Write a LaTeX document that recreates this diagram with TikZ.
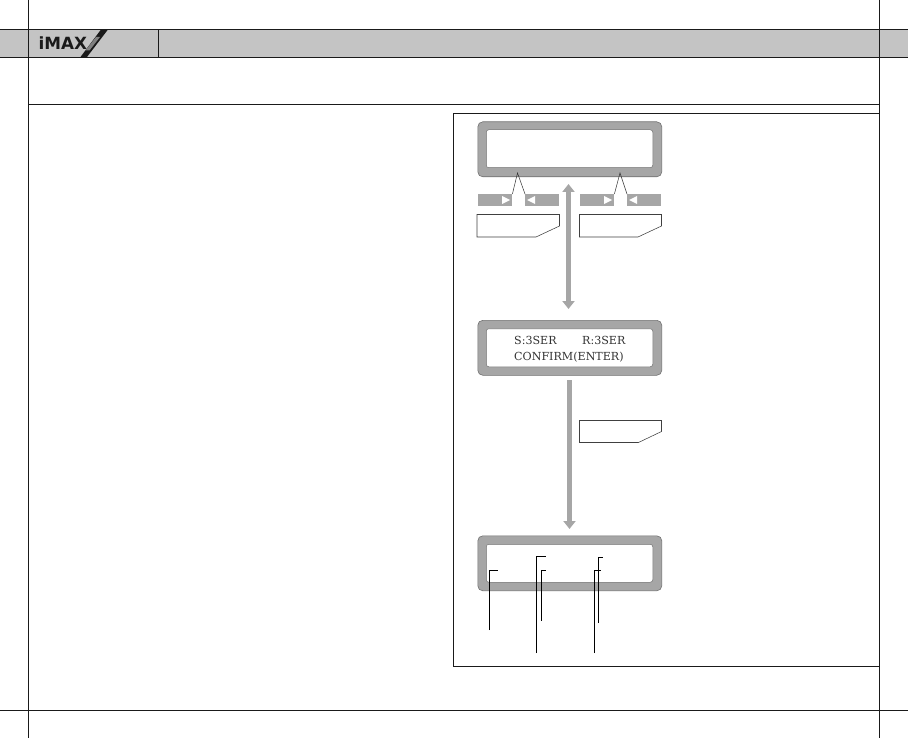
\documentclass[tikz,border=0pt]{standalone}
\usepackage{fontspec}
\setmainfont{DejaVu Serif}
\newfontfamily\logofont{DejaVu Sans}
\usetikzlibrary{arrows.meta,positioning}
\definecolor{band}{HTML}{C4C4C4}
\definecolor{lcdgray}{HTML}{A6A6A6}
\definecolor{lcdedge}{HTML}{707070}
\definecolor{rule}{HTML}{1A1A1A}
\tikzset{
  x=1pt,y=-1pt,
  rulerline/.style={draw=rule,line width=0.9pt},
  lcdouter/.style={draw=lcdedge,fill=lcdgray,line width=0.6pt,rounded corners=5pt,minimum width=184pt,minimum height=55pt,inner sep=0pt,anchor=north west},
  lcdinner/.style={draw=lcdedge,fill=white,line width=0.5pt,rounded corners=2.5pt,minimum width=166.5pt,minimum height=38pt,inner sep=0pt,anchor=north west},
  lcdtext/.style={inner sep=0pt,anchor=base west,font=\fontsize{11.1}{13}\selectfont,text=black!80},
  softbar/.style={fill=lcdgray,draw=none,minimum width=34pt,minimum height=12pt,inner sep=0pt,anchor=north west},
  whitetri/.style={fill=white,draw=none},
  thinline/.style={draw=black!80,line width=0.5pt},
  notebox/.style={draw=black!75,fill=white,line width=0.55pt},
  bigarrow/.style={draw=lcdgray,line width=4.6pt,-{Triangle[width=12pt,length=8pt]}},
  bigdouble/.style={draw=lcdgray,line width=4.6pt,{Triangle[width=12pt,length=8pt]}-{Triangle[width=12pt,length=8pt]}},
  leader/.style={draw=black,line width=0.7pt},
}
\begin{document}
\begin{tikzpicture}
\useasboundingbox (0,0) rectangle (908,738);
% band
\fill[band] (0,29.5) rectangle (908,57);
\draw[rulerline] (0,29.5) -- (908,29.5);
\draw[rulerline] (0,57) -- (908,57);
\draw[rulerline] (28.5,0) -- (28.5,738);
\draw[rulerline] (879,0) -- (879,738);
\draw[rulerline] (158.5,29.5) -- (158.5,57);
\draw[rulerline] (28.5,104.5) -- (879,104.5);
\draw[rulerline] (0,710) -- (908,710);
% logo
\node[anchor=base west,inner sep=0pt,font=\logofont\bfseries\fontsize{16.8}{18}\selectfont,text=rule] (logo) at (38.5,50) {iMAX};
\fill[rule] (80.5,57) -- (87,57) -- (108,29.5) -- (101,29.5) -- cycle;
\fill[black!50] (85.5,50.5) -- (89.5,50.5) -- (100,37) -- (96,37) -- cycle;
% frame
\draw[rulerline] (879,113.5) -- (453.5,113.5) -- (453.5,666) -- (879,666);
% LCDs
\node[lcdouter] (lcdA) at (477.5,121.5) {};
\node[lcdinner] (lcdAin) at (486,129.5) {};
\node[lcdouter] (lcdB) at (477.5,320) {};
\node[lcdinner] (lcdBin) at (486,328.5) {};
\node[lcdtext] (lineS) at (514,344.5) {S:3SER};
\node[lcdtext] (lineR) at (582,344.5) {R:3SER};
\node[lcdtext] (lineC) at (514,360) {CONFIRM(ENTER)};
\node[lcdouter] (lcdC) at (477.5,535.5) {};
\node[lcdinner] (lcdCin) at (486,544) {};
% soft bars
\node[softbar] (barA) at (478,194) {};
\node[softbar] (barB) at (525,194) {};
\node[softbar] (barC) at (580,194) {};
\node[softbar] (barD) at (627,194) {};
\fill[whitetri] (502,196) -- (510,200) -- (502,204) -- cycle;
\fill[whitetri] (535,196) -- (527,200) -- (535,204) -- cycle;
\fill[whitetri] (604,196) -- (612,200) -- (604,204) -- cycle;
\fill[whitetri] (637,196) -- (629,200) -- (637,204) -- cycle;
% pointers
\coordinate (tipL) at (517.5,173);
\coordinate (tipR) at (620,173);
\draw[thinline] (barA.north east) -- (tipL) -- (barB.north west);
\draw[thinline] (barC.north east) -- (tipR) -- (barD.north west);
% note boxes
\path[notebox] (477,214.5) -- (559.5,214.5) -- (559.5,226) -- (536,237) -- (477,237) -- cycle;
\path[notebox] (579.5,214.5) -- (661.5,214.5) -- (661.5,226) -- (638,237) -- (579.5,237) -- cycle;
\path[notebox] (579.5,420.5) -- (661.5,420.5) -- (661.5,431.5) -- (638.5,442.5) -- (579.5,442.5) -- cycle;
% arrows
\coordinate (dblTop) at (568.5,184);
\coordinate (dblBot) at (568.5,309);
\draw[bigdouble] (dblTop) -- (dblBot);
\coordinate (arrTop) at (569.5,380);
\coordinate (arrBot) at (569.5,529);
\draw[bigarrow] (arrTop) -- (arrBot);
% leaders
\draw[leader] (489.5,630) -- (489.5,570.5) -- (498,570.5);
\draw[leader] (536.5,653) -- (536.5,556.5) -- (546,556.5);
\draw[leader] (541.5,620.5) -- (541.5,570.5) -- (546,570.5);
\draw[leader] (598.5,623) -- (598.5,557.5) -- (603,557.5);
\draw[leader] (594.5,653) -- (594.5,570.5) -- (601,570.5);
\end{tikzpicture}
\end{document}
